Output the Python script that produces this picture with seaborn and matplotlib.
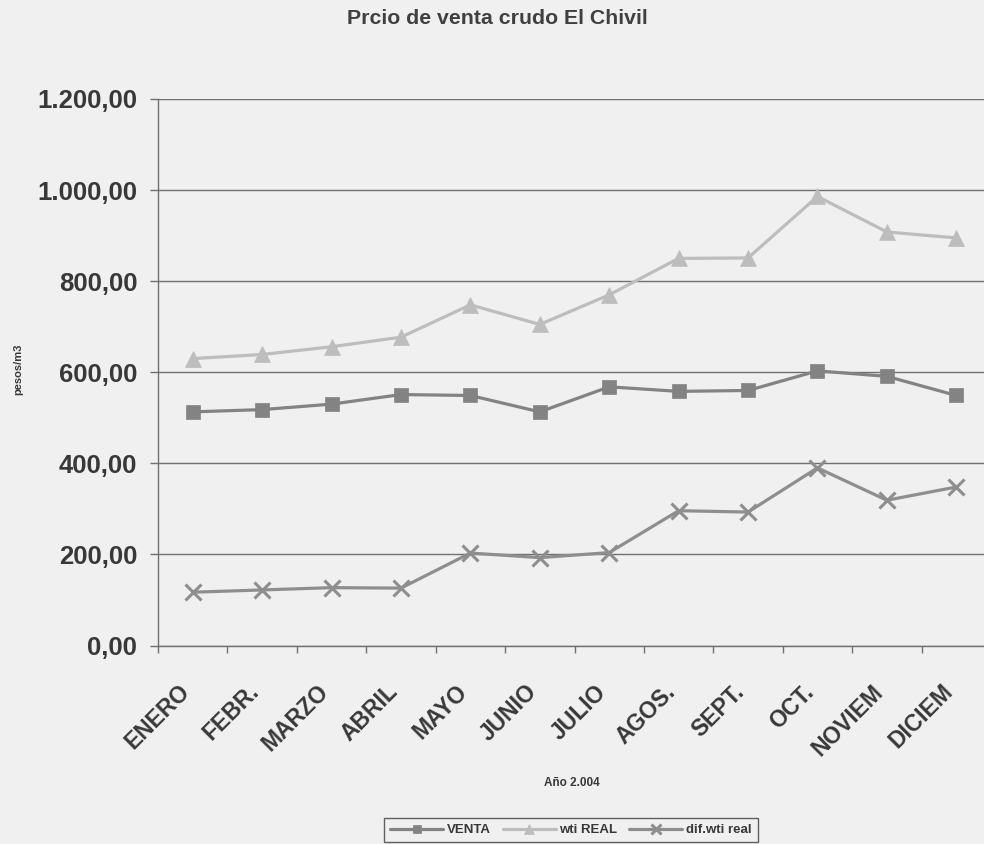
import numpy as np
import pandas as pd
import matplotlib
matplotlib.use("Agg")
import matplotlib.pyplot as plt
import seaborn as sns
from matplotlib.transforms import ScaledTranslation

# ---- data ----
months = ["ENERO", "FEBR.", "MARZO", "ABRIL", "MAYO", "JUNIO",
          "JULIO", "AGOS.", "SEPT.", "OCT.", "NOVIEM", "DICIEM"]
venta = [513, 518, 530, 551, 549, 513, 568, 558, 560, 603, 591, 549]
wti_real = [630, 639, 656, 677, 748, 705, 770, 850, 851, 986, 908, 895]
dif_wti_real = [117, 122, 127, 126, 203, 193, 204, 296, 293, 390, 319, 348]
y_ticks = [0, 200, 400, 600, 800, 1000, 1200]

title = "Prcio de venta crudo El Chivil"
x_title = "Año 2.004"
y_title = "pesos/m3"

sns.set_theme(style="white")
plt.rcParams["font.family"] = ["Liberation Sans", "DejaVu Sans"]

BG = "#f0f0f0"
GRID = "#707070"
TXT = "#383838"

fig = plt.figure(figsize=(9.84, 8.44), dpi=100, facecolor=BG)
ax = fig.add_axes([158 / 984, 198.5 / 844, 833 / 984, 546.5 / 844])
ax.set_facecolor(BG)

df = pd.DataFrame({"mes": months, "pos": np.arange(len(months)),
                   "VENTA": venta, "wti REAL": wti_real,
                   "dif.wti real": dif_wti_real})

series = [
    ("VENTA", "#838383", "s", "#838383", 10.5, 0.5),
    ("wti REAL", "#bdbdbd", "^", "#bdbdbd", 11, 0.5),
    ("dif.wti real", "#8e8e8e", "x", "#8e8e8e", 11, 2.2),
]
for name, col, mk, mec, ms, mew in series:
    sns.lineplot(data=df, x="pos", y=name, ax=ax, color=col, marker=mk,
                 markersize=ms, markeredgecolor=mec, markeredgewidth=mew,
                 linewidth=2.3, label=name, legend=False, zorder=3)

ax.set_xlim(-0.5, len(months) - 0.5)
ax.set_ylim(0, 1200)

# y axis
def fmt(v):
    s = f"{v:,.2f}"
    return s.replace(",", "X").replace(".", ",").replace("X", ".")

ax.set_yticks(y_ticks)
ax.set_yticklabels([fmt(v) for v in y_ticks], fontsize=18.5,
                   fontweight="bold", color=TXT)
ax.tick_params(axis="y", left=True, length=6, width=1, color=GRID, pad=9)
ax.yaxis.grid(True, color=GRID, linewidth=1.0)
ax.set_axisbelow(True)

# x axis
ax.set_xticks(df["pos"])
ax.set_xticks(np.arange(-0.5, len(months), 1), minor=True)
ax.set_xticklabels(months, rotation=45, ha="right", va="top",
                   rotation_mode="anchor", fontsize=16.5, fontweight="bold",
                   color=TXT)
ax.tick_params(axis="x", which="major", length=0, pad=25)
ax.tick_params(axis="x", which="minor", bottom=True, length=5, width=1,
               color=GRID)
off = ScaledTranslation(-15 / 100, 0, fig.dpi_scale_trans)
for lbl in ax.get_xticklabels():
    lbl.set_transform(lbl.get_transform() + off)

ax.set_xlabel("")
ax.set_ylabel("")
for s in ["top", "right"]:
    ax.spines[s].set_visible(False)
for s in ["left", "bottom"]:
    ax.spines[s].set_color(GRID)
    ax.spines[s].set_linewidth(1.0)

fig.text(497 / 984, 1 - 18 / 844, title, ha="center", va="center",
         fontsize=15.3, fontweight="bold", color="#404040")
fig.text(572 / 984, 1 - 783 / 844, x_title, ha="center", va="center",
         fontsize=8.5, fontweight="bold", color=TXT)
fig.text(18 / 984, 1 - 369 / 844, y_title, ha="center", va="center",
         rotation=90, fontsize=8, fontweight="bold", color=TXT)

handles, labels = ax.get_legend_handles_labels()
leg = fig.legend(handles, labels, loc="center",
                 bbox_to_anchor=(571 / 984, 1 - 830 / 844), ncol=3,
                 frameon=True, fancybox=False, edgecolor="#606060",
                 facecolor=BG, framealpha=1, markerscale=0.6,
                 prop=dict(weight="bold", size=9.5), handlelength=4.0,
                 columnspacing=0.9, handletextpad=0.3, borderpad=0.45)
leg.get_frame().set_linewidth(1.0)
for t in leg.get_texts():
    t.set_color(TXT)

fig.savefig("out.png", dpi=100, facecolor=BG)
